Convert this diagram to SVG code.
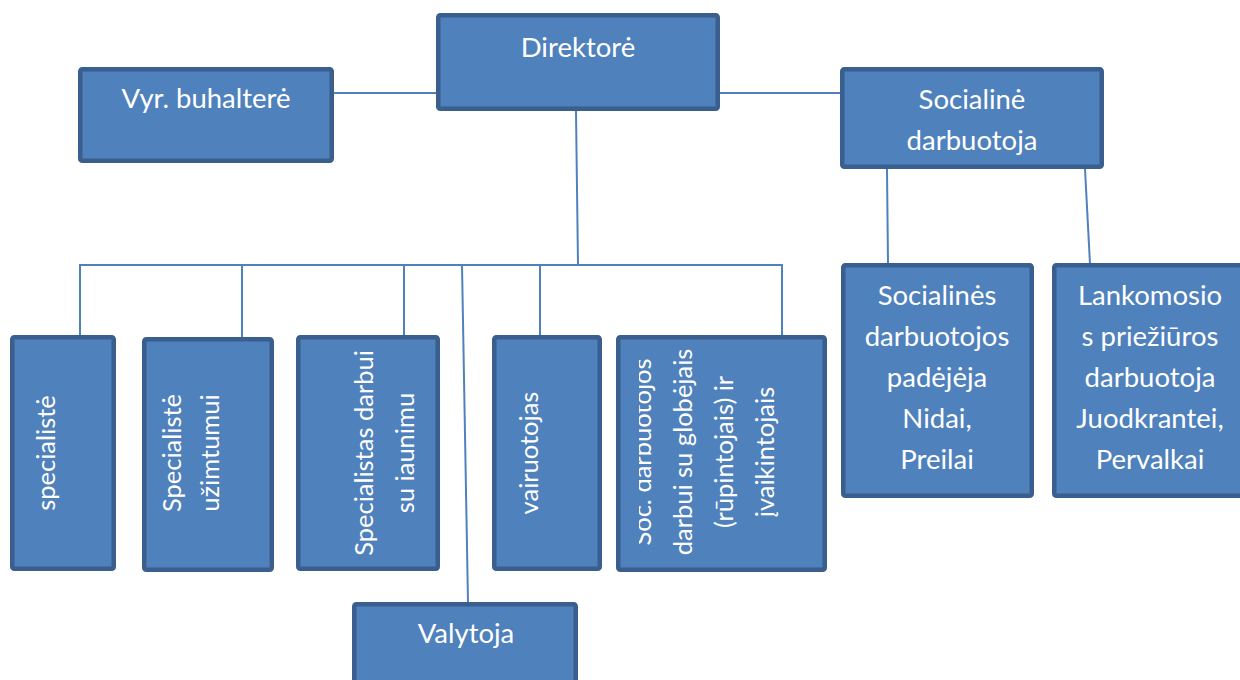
<svg xmlns="http://www.w3.org/2000/svg" width="1240" height="680" viewBox="0 0 1240 680">
<style>
.box{fill:#4F81BD;stroke:#3A5F8E;stroke-width:4.5}
.t{font-family:Lato,"Open Sans","Liberation Sans",sans-serif;font-size:27.5px;fill:#FFFFFF;text-anchor:middle}
.r{font-size:25.5px}
.c{fill:none;stroke:#4F81BD;stroke-width:2}
</style>
<defs>
<clipPath id="socclip"><rect x="639" y="335" width="188" height="237"/></clipPath>
</defs>
<rect width="1240" height="680" fill="#FFFFFF"/>
<g id="connectors">
<line class="c" x1="334" y1="93" x2="436" y2="93"/>
<line class="c" x1="720" y1="93" x2="840" y2="93"/>
<line class="c" x1="576" y1="111" x2="578" y2="265"/>
<line class="c" x1="79" y1="265" x2="783" y2="265"/>
<line class="c" x1="80" y1="264" x2="80" y2="336"/>
<line class="c" x1="242" y1="265" x2="242" y2="338"/>
<line class="c" x1="404" y1="265" x2="404" y2="336"/>
<line class="c" x1="540" y1="265" x2="540" y2="336"/>
<line class="c" x1="782" y1="264" x2="782" y2="336"/>
<line class="c" x1="462" y1="265" x2="468" y2="603"/>
<line class="c" x1="887" y1="169" x2="888" y2="264"/>
<line class="c" x1="1085" y1="169" x2="1090" y2="264"/>
</g>
<g id="direktore">
<rect class="box" x="438.25" y="15.25" width="279.5" height="93.5" rx="2"/>
<text class="t" x="578" y="57">Direktorė</text>
</g>
<g id="vyr-buhaltere">
<rect class="box" x="80.25" y="69.25" width="251.5" height="91.5" rx="2"/>
<text class="t" x="206" y="108">Vyr. buhalterė</text>
</g>
<g id="socialine-darbuotoja">
<rect class="box" x="842.25" y="69.25" width="259.5" height="97.5" rx="2"/>
<text class="t" x="972" y="109">Socialinė</text>
<text class="t" x="972" y="150">darbuotoja</text>
</g>
<g id="socialines-padejeja">
<rect class="box" x="843.25" y="265.25" width="188.5" height="230.5" rx="2"/>
<text class="t" x="937" y="305">Socialinės</text>
<text class="t" x="937" y="346">darbuotojos</text>
<text class="t" x="937" y="387">padėjėja</text>
<text class="t" x="937" y="428">Nidai,</text>
<text class="t" x="937" y="469">Preilai</text>
</g>
<g id="lankomosios">
<rect class="box" x="1054.25" y="265.25" width="191.5" height="230.5" rx="2"/>
<text class="t" x="1150" y="305">Lankomosio</text>
<text class="t" x="1150" y="346">s priežiūros</text>
<text class="t" x="1150" y="387">darbuotoja</text>
<text class="t" x="1150" y="428">Juodkrantei,</text>
<text class="t" x="1150" y="469">Pervalkai</text>
</g>
<g id="specialiste">
<rect class="box" x="12.25" y="337.25" width="101.5" height="231.5" rx="2"/>
<text class="t r" transform="translate(0,453) rotate(-90)" x="0" y="55">specialistė</text>
</g>
<g id="specialiste-uzimtumui">
<rect class="box" x="144.25" y="339.25" width="127.5" height="230.5" rx="2"/>
<text class="t r" transform="translate(0,453) rotate(-90)"><tspan x="0" y="181">Specialistė</tspan><tspan x="0" y="219">užimtumui</tspan></text>
</g>
<g id="specialistas-jaunimu">
<rect class="box" x="298.25" y="337.25" width="139.5" height="231.5" rx="2"/>
<text class="t r" transform="translate(0,453) rotate(-90)"><tspan x="0" y="373">Specialistas darbui</tspan><tspan x="0" y="414">su iaunimu</tspan></text>
</g>
<g id="vairuotojas">
<rect class="box" x="494.25" y="337.25" width="105.5" height="231.5" rx="2"/>
<text class="t r" transform="translate(0,453) rotate(-90)" x="0" y="538">vairuotojas</text>
</g>
<g id="soc-darbuotojos">
<rect class="box" x="618.25" y="337.25" width="206.5" height="232.5" rx="2"/>
<g clip-path="url(#socclip)">
<text class="t r" transform="translate(0,452) rotate(-90)"><tspan x="0" y="651">Soc. darbuotojos</tspan><tspan x="0" y="692">darbui su globėjais</tspan><tspan x="0" y="733">(rūpintojais) ir</tspan><tspan x="0" y="774">įvaikintojais</tspan></text>
</g>
</g>
<g id="valytoja">
<rect class="box" x="354.25" y="604.25" width="221.5" height="90" rx="2"/>
<text class="t" x="466" y="643">Valytoja</text>
</g>
</svg>
